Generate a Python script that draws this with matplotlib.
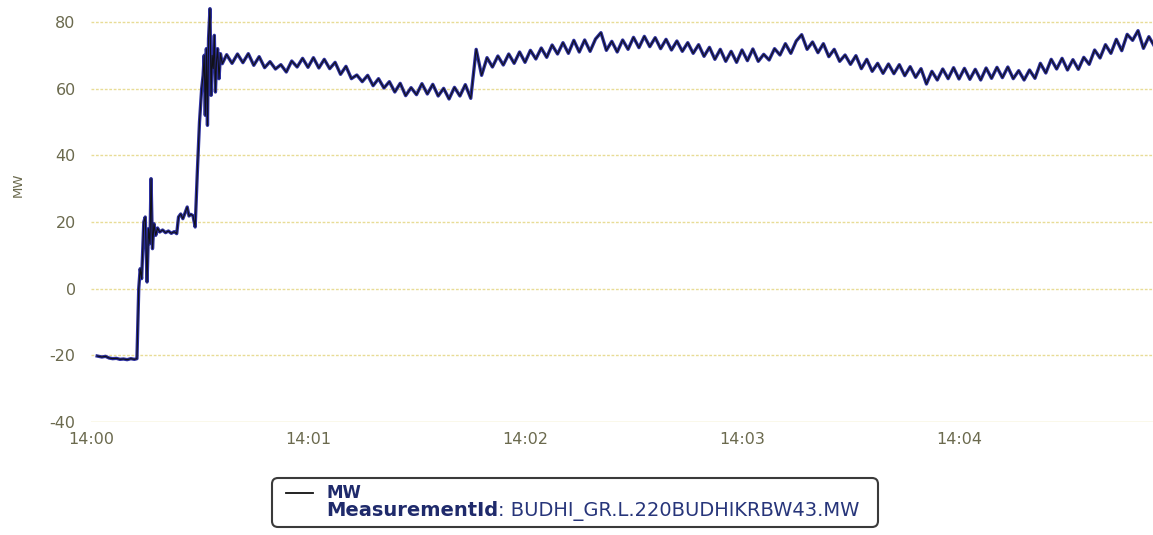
import numpy as np
import matplotlib
matplotlib.use("Agg")
import matplotlib.pyplot as plt
from matplotlib.patches import FancyBboxPatch
from matplotlib.lines import Line2D
from matplotlib.transforms import IdentityTransform

plt.rcParams["axes.unicode_minus"] = False

# ---------------- data ----------------
early_seconds = [1.7, 3.0, 4.0, 5.0, 6.0, 7.0, 8.0, 9.0, 10.0, 11.0, 12.0, 12.7,
                 13.2, 13.6, 14.0, 14.6, 15.0, 15.5, 15.9, 16.3, 16.6, 17.0, 17.4, 17.9, 18.4, 19.0,
                 19.8, 20.6, 21.4, 22.2, 23.0, 23.7,
                 24.2, 24.8, 25.4, 26.0, 26.6, 27.1, 27.6, 28.2, 28.8,
                 29.4, 30.0, 30.6, 31.0, 31.3, 31.6, 31.9, 32.2, 32.5, 32.9,
                 33.2, 33.5, 33.8, 34.1, 34.4, 34.7, 35.0, 35.4, 35.8, 36.3]
early_mw = [-20.2, -20.5, -20.3, -20.8, -21.0, -20.9, -21.2, -21.1, -21.3, -21.0, -21.2, -21.0,
            0.0, 6.0, 3.0, 20.0, 21.5, 2.0, 18.0, 13.5, 33.0, 12.0, 19.5, 16.0, 18.2, 17.0,
            17.6, 16.8, 17.3, 16.6, 17.1, 16.5,
            21.5, 22.4, 21.0, 22.7, 24.5, 21.8, 22.3, 21.9, 18.5,
            35.0, 50.0, 60.0, 64.0, 70.0, 52.0, 72.0, 49.0, 75.0, 84.0,
            58.0, 70.0, 66.0, 76.0, 59.0, 68.0, 72.0, 63.0, 70.5, 67.5]

steady_start_s = 37.5
steady_step_s = 1.5
steady_mw = [70.2, 67.6, 70.4, 67.8, 70.5, 67.0, 69.6, 66.3, 68.1, 65.9,
             67.2, 65.0, 68.3, 66.5, 69.1, 66.4, 69.3, 66.2, 68.8, 66.0,
             67.9, 64.3, 66.7, 63.0, 64.1, 62.1, 64.0, 60.9, 63.0, 60.2,
             62.1, 59.0, 61.6, 57.9, 60.3, 58.2, 61.5, 58.4, 61.3, 57.8,
             60.1, 56.9, 60.4, 57.8, 61.2, 57.1, 71.8, 64.0, 69.3, 66.5,
             69.8, 67.1, 70.4, 67.6, 71.0, 67.9, 71.5, 68.9, 72.2, 69.4,
             73.1, 70.4, 73.8, 70.6, 74.5, 71.0, 74.6, 71.2, 74.9, 76.8,
             71.5, 74.2, 71.0, 74.6, 71.8, 75.4, 72.3, 75.7, 72.6, 75.3,
             72.0, 74.8, 71.6, 74.3, 71.2, 73.8, 70.6, 73.2, 69.7, 72.4,
             68.8, 71.8, 68.2, 71.2, 67.9, 71.6, 68.4, 71.9, 68.2, 70.3,
             68.6, 72.0, 70.1, 73.5, 70.6, 74.3, 76.2, 71.8, 74.0, 70.8,
             73.5, 69.6, 71.8, 68.2, 70.1, 67.3, 69.9, 66.0, 68.8, 65.2,
             67.6, 64.6, 67.4, 64.5, 67.2, 63.9, 66.6, 63.4, 66.0, 61.4,
             65.2, 62.6, 65.9, 63.0, 66.3, 62.9, 66.1, 62.8, 65.8, 62.6,
             66.2, 63.1, 66.4, 63.3, 66.5, 63.0, 65.4, 62.6, 65.6, 63.1,
             67.6, 64.7, 68.8, 65.9, 69.1, 65.6, 68.7, 65.8, 69.4, 67.3,
             71.6, 69.2, 73.2, 70.6, 74.8, 71.4, 76.3, 74.5, 77.4, 72.1,
             75.6, 72.8, 75.2]

seconds = early_seconds + [steady_start_s + steady_step_s * i for i in range(len(steady_mw))]
mw = early_mw + steady_mw

y_ticks = [-40, -20, 0, 20, 40, 60, 80]
x_tick_seconds = [0, 60, 120, 180, 240, 300]
x_tick_labels = ["14:00", "14:01", "14:02", "14:03", "14:04", "14:05"]
series_name = "MW"
y_label = "MW"
measurement_key = "MeasurementId"
measurement_id = "BUDHI_GR.L.220BUDHIKRBW43.MW"

# ---------------- figure ----------------
W, H = 1153, 535
fig = plt.figure(figsize=(W / 100, H / 100), dpi=100)
fig.patch.set_facecolor("white")

ax_left, ax_right, ax_top, ax_bottom = 91, 1176, 2, 422
ax = fig.add_axes([ax_left / W, (H - ax_bottom) / H,
                   (ax_right - ax_left) / W, (ax_bottom - ax_top) / H])
ax.set_facecolor("white")

grid_col = "#e8dc96"
tick_col = "#6b6a4e"

ax.plot(seconds, mw, color="#2c2f9e", lw=2.4, solid_joinstyle="round", zorder=3)
ax.plot(seconds, mw, color="#111118", lw=0.8, zorder=4, label=series_name)

ax.set_xlim(0, 300)
ax.set_ylim(-40, 86)
ax.set_yticks(y_ticks)
ax.set_xticks(x_tick_seconds)
ax.set_xticklabels(x_tick_labels)

for s in ax.spines.values():
    s.set_visible(False)
ax.grid(False)
for yv in y_ticks:
    ls = "-" if yv == -40 else (0, (2, 1.2))
    ax.axhline(yv, color=grid_col, lw=1.0, ls=ls, zorder=1)

ax.tick_params(axis="both", length=0, colors=tick_col, labelsize=11.5)
ax.tick_params(axis="y", pad=11)
ax.tick_params(axis="x", pad=7)

fig.text(18 / W, 1 - 185 / H, y_label, rotation=90, ha="center", va="center",
         fontsize=9.5, color=tick_col)

# ---------------- legend (drawn by hand) ----------------
ident = IdentityTransform()
box = FancyBboxPatch((272, H - 527), 606, 49,
                     boxstyle="round,pad=0,rounding_size=6",
                     transform=ident, facecolor="white", edgecolor="#3a3a3a",
                     lw=1.5)
fig.add_artist(box)
fig.add_artist(Line2D([286, 313], [H - 493, H - 493], transform=ident,
                      color="#111111", lw=1.3))
navy = "#1f2a6b"
fig.text(326, H - 493, series_name, transform=ident, fontsize=12,
         fontweight="bold", color=navy, va="center", ha="left")
t1 = fig.text(326, H - 516, measurement_key, transform=ident, fontsize=14,
              fontweight="bold", color=navy, va="baseline", ha="left")
fig.canvas.draw()
bb = t1.get_window_extent(renderer=fig.canvas.get_renderer())
fig.text(bb.x1, H - 516, ": " + measurement_id, transform=ident, fontsize=14,
         color="#27357a", va="baseline", ha="left")

fig.savefig("out.png", dpi=100)
